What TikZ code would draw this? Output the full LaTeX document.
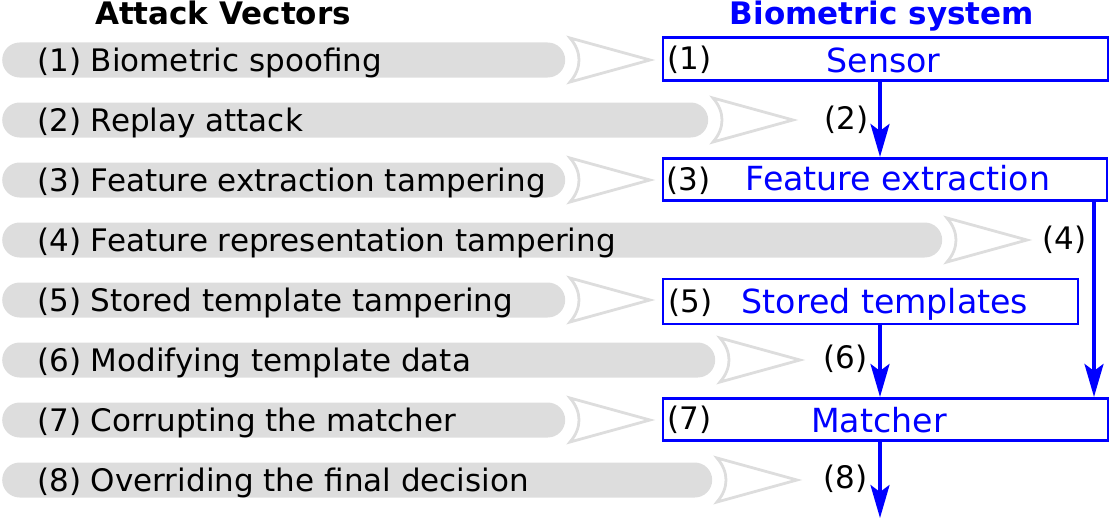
\documentclass[tikz,border=0pt]{standalone}
\usepackage{fontspec}
\setmainfont{DejaVu Sans}
\usetikzlibrary{arrows.meta}
\definecolor{bargray}{HTML}{DDDDDD}
\definecolor{sysblue}{HTML}{0000FF}
\begin{document}
\begin{tikzpicture}[x=1pt,y=-1pt,
  bar/.style={fill=bargray,rounded corners=17.5pt,minimum height=35pt,inner sep=0pt,anchor=west},
  bartext/.style={anchor=base west,inner sep=0pt,font=\fontsize{31}{36}\selectfont},
  chev/.style={draw=bargray,line width=2.8pt,line join=miter},
  sysbox/.style={draw=sysblue,line width=2.6pt,inner sep=0pt},
  systext/.style={anchor=base,inner sep=0pt,text=sysblue,font=\fontsize{33.2}{38}\selectfont},
  numlbl/.style={anchor=base west,inner sep=0pt,font=\fontsize{31}{36}\selectfont},
  title/.style={anchor=base,inner sep=0pt,font=\bfseries\fontsize{31}{36}\selectfont},
  arr/.style={draw=sysblue,line width=3.6pt,-{Stealth[length=33pt,width=19pt,inset=7pt]}}]
\useasboundingbox (0,0) rectangle (1110,519);

% titles
\node[title] (t1) at (223,25) {Attack Vectors};
\node[title,text=sysblue] (t2) at (882,25) {Biometric system};

% attack vector bars
\foreach \i/\c/\e/\t in {1/60/565/{(1) Biometric spoofing},
                          2/120/708/{(2) Replay attack},
                          3/180/565/{(3) Feature extraction tampering},
                          4/240/942/{(4) Feature representation tampering},
                          5/300/565/{(5) Stored template tampering},
                          6/360/715/{(6) Modifying template data},
                          7/420/565/{(7) Corrupting the matcher},
                          8/480/712/{(8) Overriding the final decision}}{
  \node[bar,minimum width=\e pt-2pt] (b\i) at (2,\c) {};
  \node[bartext] (bt\i) at (37,\c+11) {\t};
  \pgfmathsetmacro{\xa}{\e+5}
  \pgfmathsetmacro{\xb}{\e+85}
  \pgfmathsetmacro{\xc}{\e+17}
  \draw[chev] (\xa,\c-22) -- (\xb,\c) -- (\xa,\c+22)
     .. controls (\xc,\c+8) and (\xc,\c-8) .. cycle;
}

% system boxes
\node[sysbox,minimum width=445pt,minimum height=42.5pt] (sensor) at (885.5,59) {};
\node[sysbox,minimum width=444pt,minimum height=42.5pt] (fe) at (885,179.5) {};
\node[sysbox,minimum width=415pt,minimum height=45pt] (st) at (870.5,301.5) {};
\node[sysbox,minimum width=445pt,minimum height=42.5pt] (match) at (885.5,419.5) {};

\node[systext] (sensorT) at (883.5,72) {Sensor};
\node[systext] (feT) at (898,190) {Feature extraction};
\node[systext] (stT) at (885,313) {Stored templates};
\node[systext] (matchT) at (879,432) {Matcher};

\node[numlbl] (n1) at (667,70) {(1)};
\node[numlbl] (n3) at (666,190) {(3)};
\node[numlbl] (n5) at (668,312) {(5)};
\node[numlbl] (n7) at (667,429) {(7)};

% connectors
\coordinate (cx) at (880,0);
\coordinate (cr) at (1094,0);
\coordinate (out) at (880,518);
\draw[arr] (sensor.south -| cx) -- (fe.north -| cx);
\draw[arr] (fe.south -| cr) -- (match.north -| cr);
\draw[arr] (st.south -| cx) -- (match.north -| cx);
\draw[arr] (match.south -| cx) -- (out);

\node[numlbl] (n2) at (824,129) {(2)};
\node[numlbl] (n4) at (1042,249) {(4)};
\node[numlbl] (n6) at (823,368) {(6)};
\node[numlbl] (n8) at (823,488) {(8)};
\end{tikzpicture}
\end{document}
